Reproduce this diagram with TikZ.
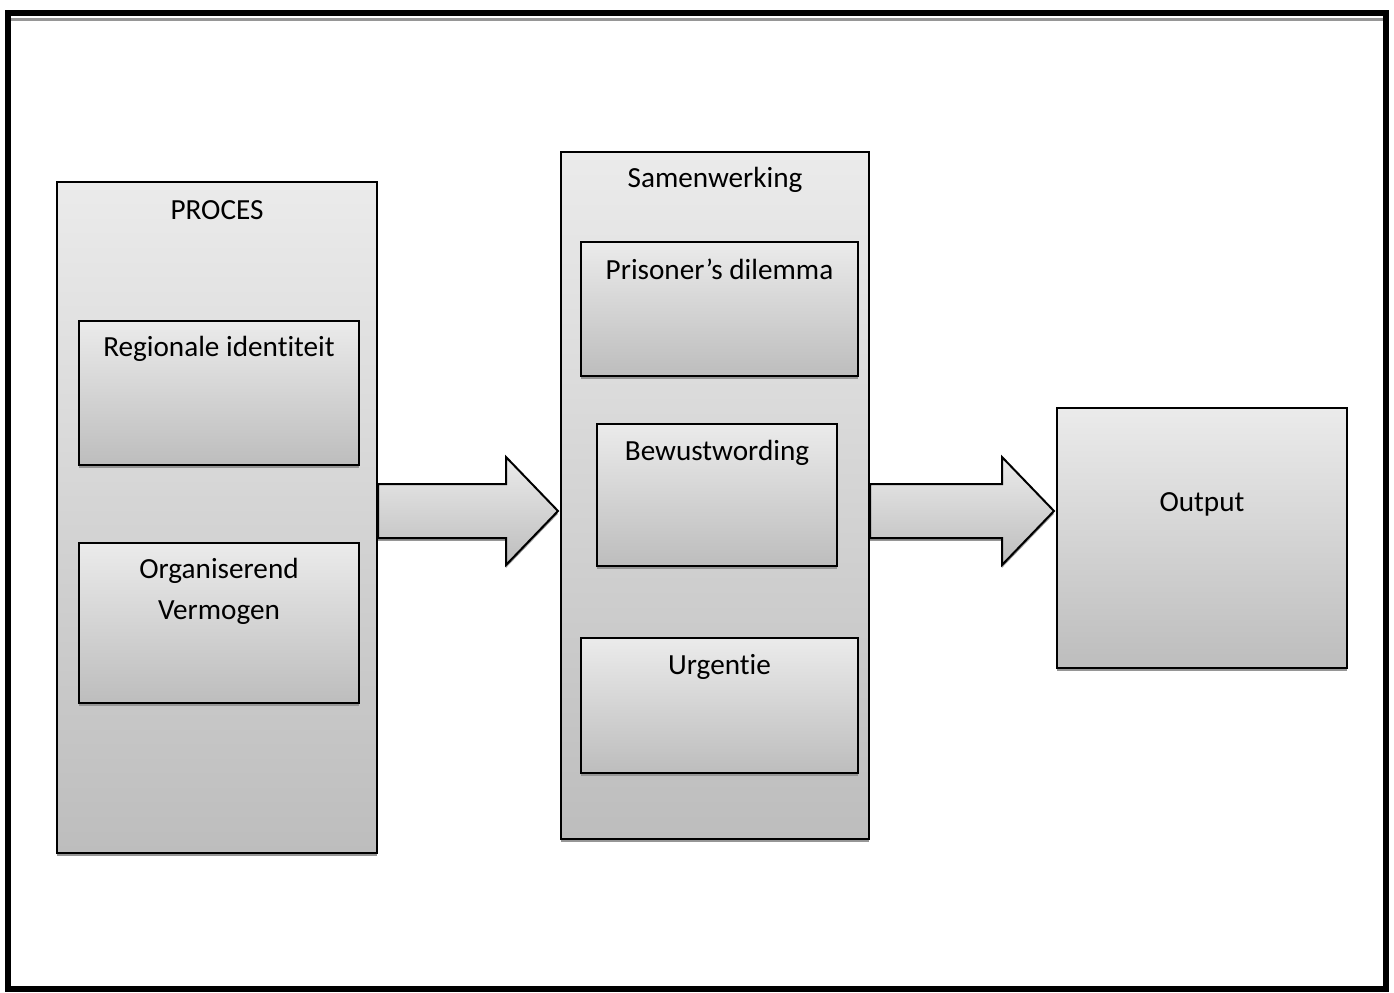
\documentclass[tikz,border=0pt]{standalone}
\usepackage{fontspec}
\setmainfont{Carlito}[Ligatures=NoCommon]
\usetikzlibrary{calc,shadows}

\definecolor{shadetop}{RGB}{235,235,235}
\definecolor{shadebot}{RGB}{189,189,189}
\definecolor{shadowgray}{RGB}{150,150,150}

% block arrow from the east side of #1 to the west side of #2
\newcommand{\blockarrow}[2]{%
	\coordinate (tip) at ([xshift=-1pt]#2.west |- 0,511);
	\draw[flow] (#1.east |- 0,484) -- ($(tip)+(-52,-27)$) -- ($(tip)+(-52,-54)$)
		-- (tip) -- ($(tip)+(-52,54)$) -- ($(tip)+(-52,27)$)
		-- (#1.east |- 0,538) -- cycle;}

\begin{document}
\begin{tikzpicture}[x=0.5pt, y=-0.5pt,
	font=\fontsize{14.6pt}{20.5pt}\selectfont,
	box/.style 2 args = {draw, line width=1pt,
		top color=shadetop, bottom color=shadebot,
		anchor=north west, inner sep=0pt,
		minimum width={#1*0.5pt}, minimum height={#2*0.5pt},
		drop shadow={shadow xshift=0pt, shadow yshift=-1.4pt,
			fill=shadowgray, opacity=1}},
	lbl/.style = {align=center, inner sep=0pt},
	flow/.style = {line width=1pt, line join=miter,
		top color=shadetop, bottom color=shadebot,
		drop shadow={shadow xshift=0pt, shadow yshift=-1.4pt,
			fill=shadowgray, opacity=1}}]

	\useasboundingbox (0,0) rectangle (1394,992);

	% page frame
	\draw[shadowgray, line width=1.5pt] (11,19) -- (1383,19);
	\draw[line width=3pt] (8,13) rectangle (1386,989);

	% proces
	\node[box={320}{671}] (proc) at (56,181) {};
	\node[lbl] (proct) at ([yshift=-14.5pt]proc.north) {PROCES};
	\node[box={280}{144}] (regio) at (78,320) {};
	\node[lbl] (regiot) at ([yshift=-14.5pt]regio.north) {Regionale identiteit};
	\node[box={280}{160}] (orga) at (78,542) {};
	\node[lbl, anchor=north] (orgat) at ([yshift=-8pt]orga.north) {Organiserend\\Vermogen};

	% samenwerking
	\node[box={308}{687}] (samen) at (560,151) {};
	\node[lbl] (sament) at ([yshift=-14.5pt]samen.north) {Samenwerking};
	\node[box={277}{134}] (pris) at (580,241) {};
	\node[lbl] (prist) at ([yshift=-14pt]pris.north) {Prisoner’s dilemma};
	\node[box={240}{142}] (bewust) at (596,423) {};
	\node[lbl] (bewustt) at ([yshift=-15pt]bewust.north) {Bewustwording};
	\node[box={277}{135}] (urg) at (580,637) {};
	\node[lbl] (urgt) at ([yshift=-15pt]urg.north) {Urgentie};

	% output
	\node[box={290}{260}] (out) at (1056,407) {};
	\node[lbl] (outt) at ([yshift=-48.5pt]out.north) {Output};

	\blockarrow{proc}{samen}
	\blockarrow{samen}{out}

\end{tikzpicture}
\end{document}
